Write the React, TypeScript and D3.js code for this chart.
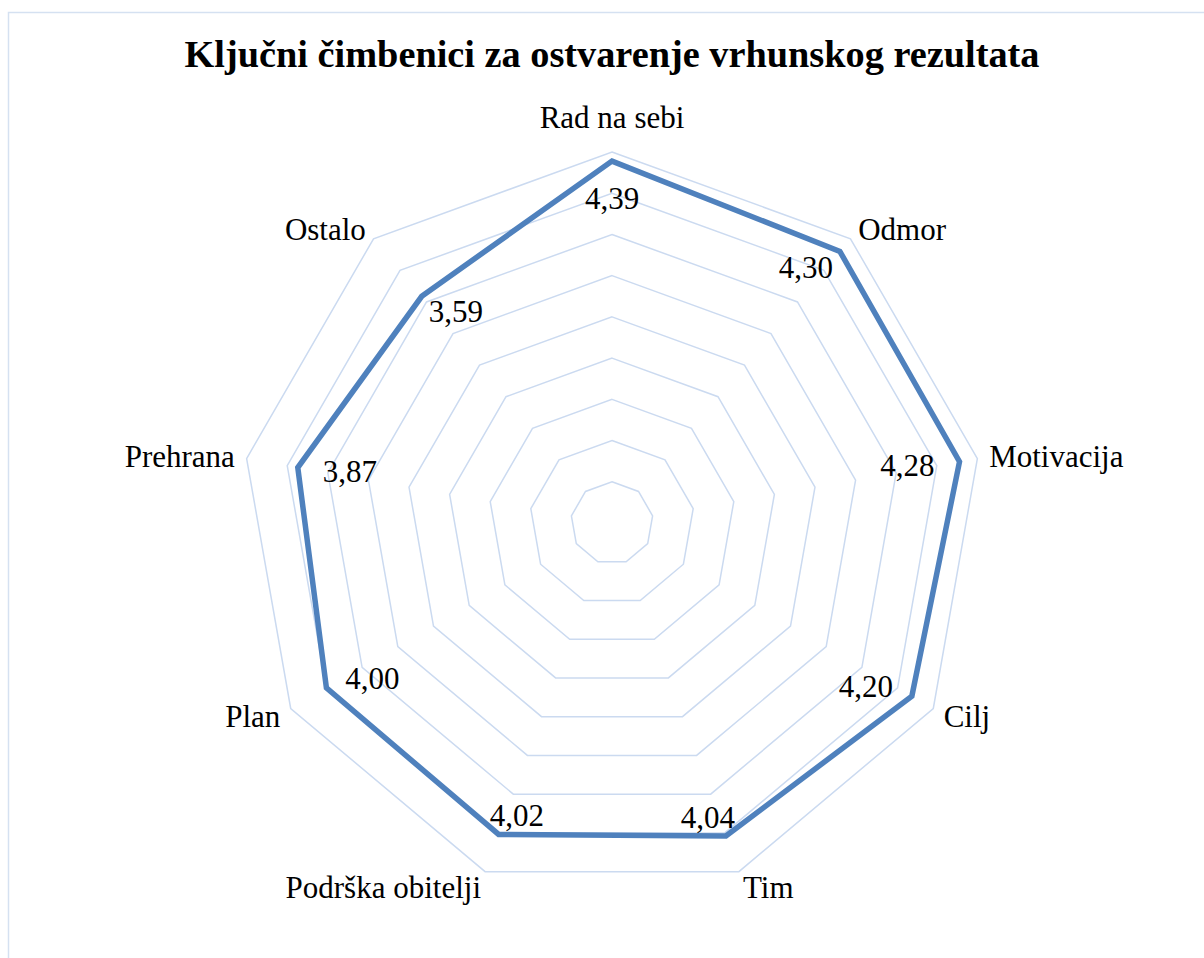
import React from 'react';
import * as d3 from 'd3';

const title = 'Ključni čimbenici za ostvarenje vrhunskog rezultata';
const categories = ['Rad na sebi', 'Odmor', 'Motivacija', 'Cilj', 'Tim', 'Podrška obitelji', 'Plan', 'Prehrana', 'Ostalo'];
const values = [4.39, 4.30, 4.28, 4.20, 4.04, 4.02, 4.00, 3.87, 3.59];
const ringLevels = [0.5, 1, 1.5, 2, 2.5, 3, 3.5, 4, 4.5];

const W = 1204;
const H = 958;
const cx = 612;
const cy = 523;
const font = "'Liberation Serif', 'Times New Roman', serif";

const App = () => {
  const r = d3.scaleLinear().domain([0, 4.5]).range([0, 371]);
  const angle = d3.scaleLinear().domain([0, categories.length]).range([0, 2 * Math.PI]);

  const radial = d3.lineRadial<number>()
    .angle((_, i) => angle(i))
    .radius(d => r(d))
    .curve(d3.curveLinearClosed);

  const fmt = (v: number) => v.toFixed(2).replace('.', ',');

  return (
    <svg width={W} height={H} style={{ position: 'absolute', left: 0, top: 0 }}>
      <rect x={8.5} y={12.5} width={1400} height={1100} fill="#fff" stroke="#d5e1f1" strokeWidth={1.5} />
      <text x={cx} y={67} textAnchor="middle" style={{ fontFamily: font }} fontWeight="bold" fontSize={38.3}>
        {title}
      </text>
      <g transform={`translate(${cx},${cy})`}>
        {ringLevels.map(lv => (
          <path key={lv} d={radial(categories.map(() => lv)) || ''} fill="none" stroke="#cbdaf0" strokeWidth={1.5} />
        ))}
        <path d={radial(values) || ''} fill="none" stroke="#4f81bd" strokeWidth={5.5} strokeLinejoin="miter" />
        {values.map((v, i) => {
          const a = angle(i);
          const s = Math.sin(a);
          const c = Math.cos(a);
          const px = r(v) * s;
          const py = -r(v) * c;
          const lx = px - s * 53;
          const ly = py + c * 20 + (Math.abs(s) < 0.01 ? 17 : 0);
          return (
            <text key={i} x={lx} y={ly} dy="0.35em" textAnchor="middle" style={{ fontFamily: font }} fontSize={31}>
              {fmt(v)}
            </text>
          );
        })}
        {categories.map((name, i) => {
          const a = angle(i);
          const s = Math.sin(a);
          const c = Math.cos(a);
          const rr = r(4.5) + 12;
          const px = rr * s;
          const py = -rr * c;
          const middle = Math.abs(s) < 0.01;
          const anchor = middle ? 'middle' : s > 0 ? 'start' : 'end';
          const base = middle ? (c > 0 ? -12 : 20) : 10 - Math.min(0, c) * 5;
          return (
            <text key={name} x={px} y={py + base} textAnchor={anchor} style={{ fontFamily: font }} fontSize={31}>
              {name}
            </text>
          );
        })}
      </g>
    </svg>
  );
};

export default App;
